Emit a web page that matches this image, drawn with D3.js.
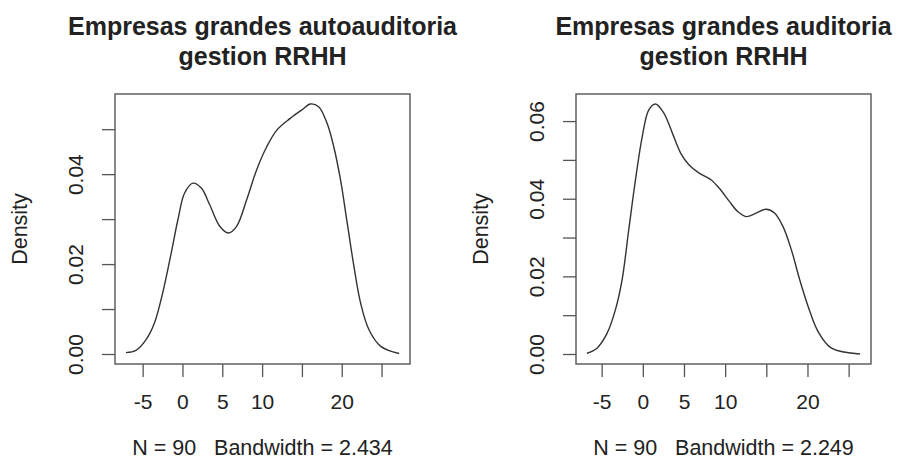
<!DOCTYPE html>
<html>
<head>
<meta charset="utf-8">
<script src="https://cdn.jsdelivr.net/npm/d3@7"></script>
<style>
  body { margin: 0; background: #fff; }
  svg text { font-family: "Liberation Sans", Arial, sans-serif; fill: #222; white-space: pre; }
</style>
</head>
<body>
<svg width="908" height="467"></svg>
<script>
// density estimates
let leftX = [-7.1, -5.84, -4.57, -3.52, -2.48, -1.42, -0.58, 0.27, 1.31, 2.37, 3.42, 4.69, 5.74, 6.8, 8.06, 9.32,
  10.58, 11.85, 13.53, 15.0, 16.05, 17.1, 18.16, 19.0, 19.85, 20.69, 21.53, 22.37, 23.42, 24.9, 27.2];
let leftY = [0.0003, 0.0008, 0.0032, 0.0069, 0.0136, 0.0224, 0.0298, 0.0358, 0.038, 0.0369, 0.0332, 0.0284, 0.0269,
  0.0284, 0.0343, 0.041, 0.0461, 0.0498, 0.0524, 0.0543, 0.0556, 0.055, 0.0513, 0.0461, 0.0387, 0.0291, 0.0195,
  0.0113, 0.0054, 0.0017, 0.0001];

let rightX = [-6.79, -5.57, -4.35, -3.34, -2.52, -1.71, -0.89, -0.07, 0.73, 1.55, 2.57, 3.59, 4.61, 5.62, 6.84, 8.27,
  9.29, 10.51, 11.53, 12.55, 13.77, 14.99, 16.0, 17.03, 18.05, 19.06, 20.09, 21.31, 22.93, 26.39];
let rightY = [0.0002, 0.0015, 0.0053, 0.0113, 0.0191, 0.032, 0.0449, 0.056, 0.0629, 0.0644, 0.062, 0.0569, 0.0517,
  0.0487, 0.0466, 0.0449, 0.0427, 0.0393, 0.0367, 0.0354, 0.0363, 0.0373, 0.0363, 0.0328, 0.0268, 0.0191, 0.0122,
  0.0057, 0.0015, 0.0];

let xTicks = [-5, 0, 5, 10, 15, 20, 25];
let xTickLabels = ["-5", "0", "5", "10", "", "20", ""];
let leftYTicks = [0, 0.01, 0.02, 0.03, 0.04, 0.05];
let leftYTickLabels = ["0.00", "", "0.02", "", "0.04", ""];
let rightYTicks = [0, 0.01, 0.02, 0.03, 0.04, 0.05, 0.06];
let rightYTickLabels = ["0.00", "", "0.02", "", "0.04", "", "0.06"];

let titles = [["Empresas grandes autoauditoria", "gestion RRHH"], ["Empresas grandes auditoria", "gestion RRHH"]];
let subs = ["N = 90   Bandwidth = 2.434", "N = 90   Bandwidth = 2.249"];
let yLabel = "Density";

let svg = d3.select('svg');
let boxW = 295;
let boxH = 270;
let boxTop = 94;
let panelLeft = [115, 576];

// keep the left title inside its half, like the original
svg.append('defs').append('clipPath')
    .attr('id', 'clipLeft')
    .append('rect')
    .attr('x', 0).attr('y', 0)
    .attr('width', 467).attr('height', 90);

// R style: 4% padding around the data range
let extend = (lo, hi) => {
    let pad = (hi - lo) * 0.04;
    return [lo - pad, hi + pad];
}

let drawPanel = (i, xs, ys, yTicks, yTickLabels) => {
    let left = panelLeft[i];
    let g = svg.append('g');

    let xScale = d3.scaleLinear()
        .domain(extend(d3.min(xs), d3.max(xs)))
        .range([left, left + boxW]);
    let yScale = d3.scaleLinear()
        .domain(extend(0, d3.max(ys)))
        .range([boxTop + boxH, boxTop]);

    let xAxis = d3.axisBottom(xScale)
        .tickValues(xTicks)
        .tickSize(13)
        .tickPadding(17)
        .tickFormat((d, k) => xTickLabels[k]);
    let yAxis = d3.axisLeft(yScale)
        .tickValues(yTicks)
        .tickSize(13)
        .tickFormat((d, k) => yTickLabels[k]);

    let gx = g.append('g')
        .attr('transform', 'translate(0, ' + (boxTop + boxH) + ')')
        .call(xAxis);
    gx.select('.domain').remove();
    gx.selectAll('line').attr('stroke', '#555').attr('stroke-width', 1.3);
    gx.selectAll('text')
        .attr('font-size', 21)
        .attr('fill', '#222')
        .attr('font-family', '"Liberation Sans", Arial, sans-serif');

    let gy = g.append('g')
        .attr('transform', 'translate(' + left + ', 0)')
        .call(yAxis);
    gy.select('.domain').remove();
    gy.selectAll('line').attr('stroke', '#555').attr('stroke-width', 1.3);
    gy.selectAll('text')
        .attr('font-size', 21)
        .attr('fill', '#222')
        .attr('font-family', '"Liberation Sans", Arial, sans-serif')
        .attr('text-anchor', 'middle')
        .attr('dy', 0)
        .attr('x', 0)
        .attr('transform', 'translate(-32, 0) rotate(-90)');

    g.append('rect')
        .attr('x', left)
        .attr('y', boxTop)
        .attr('width', boxW)
        .attr('height', boxH)
        .attr('fill', 'none')
        .attr('stroke', '#555')
        .attr('stroke-width', 1.4);

    let line = d3.line()
        .x(d => xScale(d[0]))
        .y(d => yScale(d[1]))
        .curve(d3.curveCatmullRom.alpha(0.5));

    g.append('path')
        .datum(xs.map((x, k) => [x, ys[k]]))
        .attr('d', line)
        .attr('fill', 'none')
        .attr('stroke', '#333')
        .attr('stroke-width', 1.4);

    let cx = left + boxW / 2;
    let tg = g.append('g');
    if (i === 0) tg.attr('clip-path', 'url(#clipLeft)');
    tg.selectAll('text')
        .data(titles[i])
        .enter()
        .append('text')
        .attr('x', cx)
        .attr('y', (d, k) => 35 + k * 30)
        .attr('text-anchor', 'middle')
        .attr('font-size', 25)
        .attr('font-weight', 'bold')
        .text(d => d);

    g.append('text')
        .attr('x', cx)
        .attr('y', 455)
        .attr('text-anchor', 'middle')
        .attr('font-size', 21.5)
        .text(subs[i]);

    g.append('text')
        .attr('transform', 'translate(' + (left - 88) + ', ' + (boxTop + boxH / 2) + ') rotate(-90)')
        .attr('text-anchor', 'middle')
        .attr('font-size', 21.5)
        .text(yLabel);
}

drawPanel(0, leftX, leftY, leftYTicks, leftYTickLabels);
drawPanel(1, rightX, rightY, rightYTicks, rightYTickLabels);
</script>
</body>
</html>
